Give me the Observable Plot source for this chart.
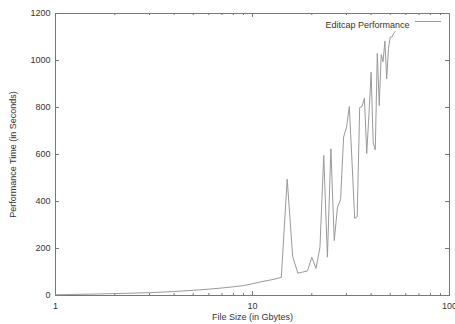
<!DOCTYPE html>
<html>
<head>
<meta charset="utf-8">
<script src="https://cdn.jsdelivr.net/npm/d3@7"></script>
<script src="https://cdn.jsdelivr.net/npm/@observablehq/plot@0.6"></script>
<style>
  html, body { margin: 0; padding: 0; background: #fff; }
</style>
</head>
<body>
<div id="chart"></div>
<script>
// File size (GB) and editcap performance time (seconds)
const fileSizes = [1,2,3,4,5,6,7,8,9,10,11,12,13,14,15,16,17,18,19,20,21,22,23,24,25,26,27,28,29,30,31,32,33,34,35,36,37,38,39,40,41,42,43,44,45,46,47,48,49,50,51,52,53];
const perfTimes = [3,8,12,17,22,27,32,37,42,50,58,64,70,77,495,165,95,100,104,163,115,205,596,163,624,234,376,408,674,716,804,570,328,335,800,805,840,604,770,950,650,620,1030,808,1025,995,1083,922,1050,1100,1100,1115,1124];
const seriesName = "Editcap Performance";
const yTicks = [0,200,400,600,800,1000,1200];
const xMajorTicks = [1,10,100];
const xMinorTicks = [2,3,4,5,6,7,8,9,20,30,40,50,60,70,80,90];

const data = fileSizes.map((x, i) => ({x, y: perfTimes[i]}));

const W = 455, H = 324, mL = 55, mR = 6, mT = 13, mB = 29;
const plotW = W - mL - mR, plotH = H - mT - mB;
const axisColor = "#777";
const major = 4, minor = 2;

const chart = Plot.plot({
  width: W,
  height: H,
  marginLeft: mL,
  marginRight: mR,
  marginTop: mT,
  marginBottom: mB,
  style: {fontFamily: "'Liberation Sans', Arial, sans-serif", fontSize: "8.5px", color: "#333", background: "#fff"},
  x: {type: "log", domain: [1, 100]},
  y: {domain: [0, 1200]},
  marks: [
    Plot.frame({stroke: axisColor}),
    // inward ticks
    Plot.tickY(yTicks, {y: d => d, stroke: axisColor, insetRight: plotW - major}),
    Plot.tickY(yTicks, {y: d => d, stroke: axisColor, insetLeft: plotW - major}),
    Plot.tickX(xMajorTicks, {x: d => d, stroke: axisColor, insetTop: plotH - major}),
    Plot.tickX(xMajorTicks, {x: d => d, stroke: axisColor, insetBottom: plotH - major}),
    Plot.tickX(xMinorTicks, {x: d => d, stroke: axisColor, insetTop: plotH - minor}),
    Plot.tickX(xMinorTicks, {x: d => d, stroke: axisColor, insetBottom: plotH - minor}),
    // labels
    Plot.axisY(yTicks, {anchor: "left", tickSize: 0, tickPadding: 5, tickFormat: d => String(d), label: "Performance Time (in Seconds)", labelAnchor: "center", labelOffset: 46, labelArrow: "none", fontSize: 9}),
    Plot.axisX(xMajorTicks, {anchor: "bottom", tickSize: 0, tickPadding: 7, tickFormat: d => String(d), label: "File Size (in Gbytes)", labelAnchor: "center", labelOffset: 24, labelArrow: "none", fontSize: 9}),
    Plot.line(data, {x: "x", y: "y", stroke: "#9a9a9a", strokeWidth: 1}),
    Plot.text([seriesName], {frameAnchor: "top-right", dx: -40, dy: 8, textAnchor: "end", fontSize: 9, fill: "#333"})
  ]
});

// legend sample line
const svg = d3.select(chart);
svg.append("line")
  .attr("x1", 415).attr("x2", 441)
  .attr("y1", 21.5).attr("y2", 21.5)
  .attr("stroke", "#9a9a9a").attr("stroke-width", 1);

document.getElementById("chart").appendChild(chart);
</script>
</body>
</html>
